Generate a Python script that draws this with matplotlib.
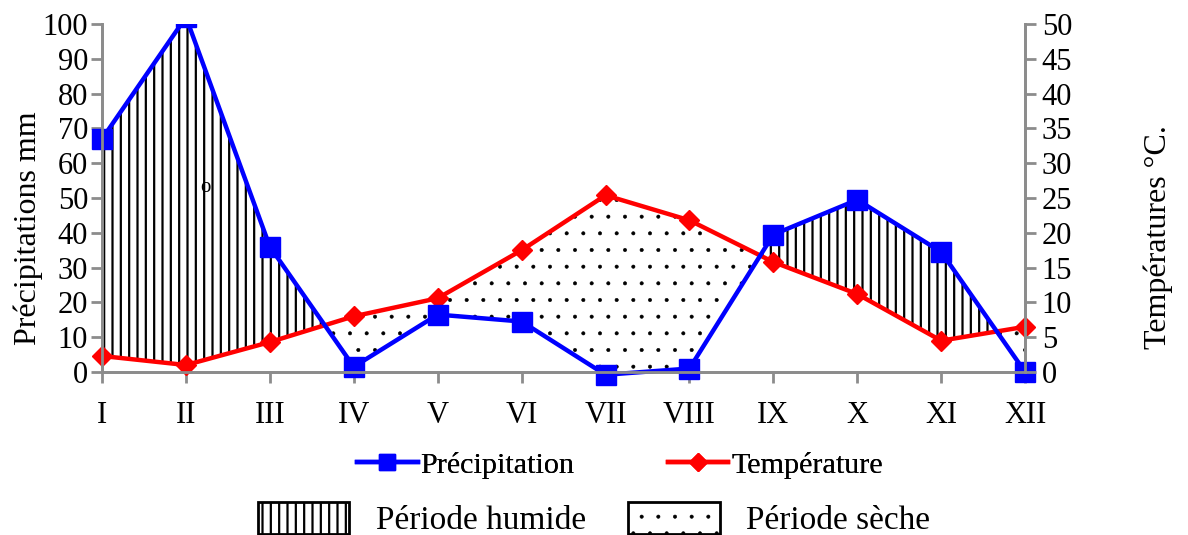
import matplotlib.pyplot as plt
import numpy as np
from matplotlib.lines import Line2D
from matplotlib.patches import Patch, Rectangle

# Diagramme ombrothermique : P en mm (axe gauche), T en °C (axe droit, P = 2T)
months = ['I', 'II', 'III', 'IV', 'V', 'VI', 'VII', 'VIII', 'IX', 'X', 'XI', 'XII']
precip = [67, 102, 36, 1.5, 16.5, 14.5, -0.8, 1, 39.5, 49.5, 34.5, 0]
temp = [2.3, 1.0, 4.3, 8.0, 10.6, 17.5, 25.4, 21.8, 15.8, 11.2, 4.5, 6.5]

plt.rcParams['font.family'] = ['Liberation Serif', 'DejaVu Serif']
grey = '#8c8c8c'

fig = plt.figure(figsize=(11.88, 5.35), dpi=100)
ax = fig.add_axes([0.0859, 0.3047, 0.777, 0.6503])
ax2 = ax.twinx()

x = np.arange(len(months))
p = np.array(precip, dtype=float)
t2 = 2 * np.array(temp)

# périodes humide / sèche
plt.rcParams['hatch.linewidth'] = 1.6
ax.fill_between(x, p, t2, where=p >= t2, interpolate=True,
                facecolor='white', edgecolor='black', linewidth=0,
                hatch='||', zorder=1)
plt.rcParams['hatch.linewidth'] = 0.4
ax.fill_between(x, p, t2, where=p < t2, interpolate=True,
                facecolor='white', edgecolor='black', linewidth=0,
                hatch='.', zorder=1)

ax.plot(x, t2, color='red', lw=3.2, marker='D', ms=10, clip_on=False, zorder=3)
pl, = ax.plot(x, p, color='#0000ff', lw=3.2, marker='s', ms=14, zorder=4)
clip = Rectangle((-0.05, -0.2), 1.1, 1.2, transform=ax.transAxes)
pl.set_clip_path(clip)

ax.text(1.23, 53, 'o', fontsize=15, ha='center', va='center', zorder=2)

ax.set_xlim(0, 11)
ax.set_ylim(0, 100)
ax2.set_ylim(0, 50)
ax.set_xticks(x)
ax.set_xticklabels(months)
ax.set_yticks(range(0, 101, 10))
ax2.set_yticks(range(0, 51, 5))

for a in (ax, ax2):
    a.spines['top'].set_visible(False)
    for s in ('left', 'right', 'bottom'):
        a.spines[s].set_color(grey)
        a.spines[s].set_linewidth(2)
    a.tick_params(colors=grey, labelcolor='black', width=2, length=8,
                  labelsize=22, direction='out')
ax.tick_params(axis='x', pad=13)
ax.tick_params(axis='y', pad=2)
ax2.tick_params(axis='y', pad=4)

ax.set_ylabel('Précipitations mm', fontsize=23, va='center')
ax.yaxis.set_label_coords(-0.080, 0.414)
ax2.set_ylabel('Températures °C.', fontsize=23, va='center')
ax2.yaxis.set_label_coords(1.144, 0.388)

h1 = [Line2D([], [], color='#0000ff', lw=3.2, marker='s', ms=11),
      Line2D([], [], color='red', lw=3.2, marker='D', ms=9)]
leg1 = fig.legend(h1, ['Précipitation', 'Température'], ncol=2,
                  loc='center', bbox_to_anchor=(0.522, 0.13), frameon=False,
                  fontsize=21.7, handlelength=2.0, handletextpad=0.1,
                  columnspacing=3.1)
hh = Patch(facecolor='white', edgecolor='black', hatch='||', lw=2)
hs = Patch(facecolor='white', edgecolor='black', hatch='.', lw=2)
leg2 = fig.legend([hh, hs], ['Période humide', 'Période sèche'], ncol=2,
                  loc='center', bbox_to_anchor=(0.5, 0.03), frameon=False,
                  fontsize=24, handlelength=2.75, handleheight=1.1,
                  handletextpad=0.8, columnspacing=1.26)
for patch, hlw in zip(leg2.get_patches(), [1.6, 0.4]):
    patch._hatch_linewidth = hlw
fig.add_artist(leg1)

fig.savefig('out.png', dpi=100)
